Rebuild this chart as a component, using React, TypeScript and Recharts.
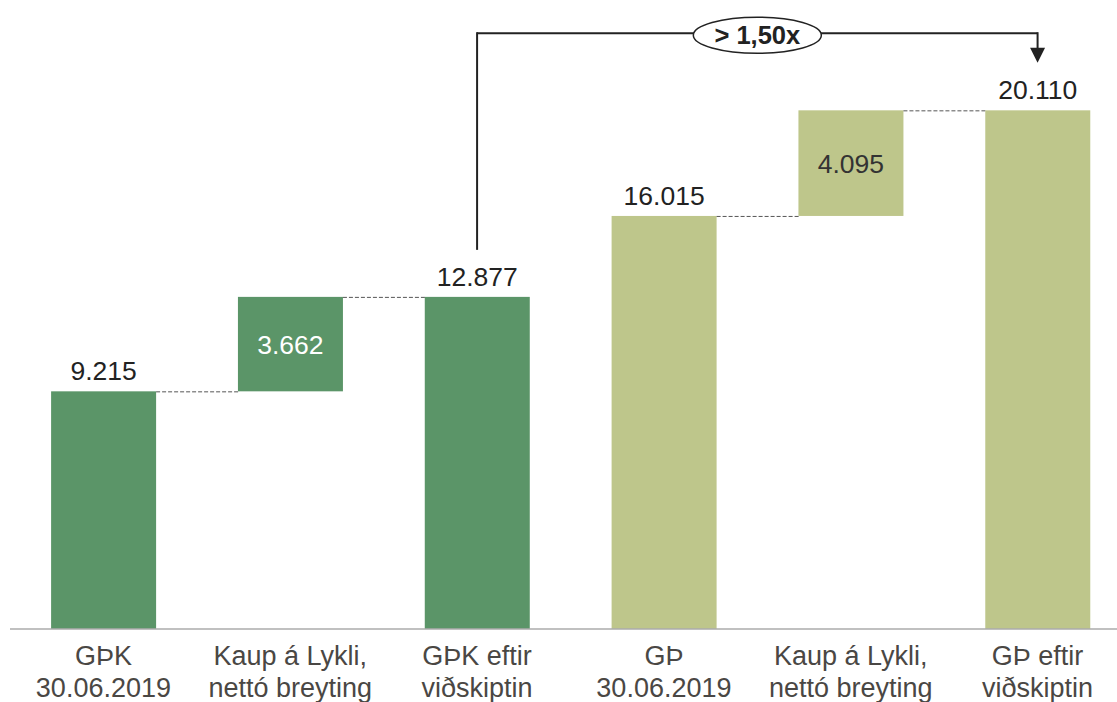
import React from 'react';
import { BarChart, Bar, XAxis, YAxis, Cell, LabelList, ReferenceLine } from 'recharts';

// ---- data ----
const categories = ['GÞK 30.06.2019', 'Kaup á Lykli GÞK', 'GÞK eftir viðskiptin', 'GÞ 30.06.2019', 'Kaup á Lykli GÞ', 'GÞ eftir viðskiptin'];
const tickLine1 = ['GÞK', 'Kaup á Lykli,', 'GÞK eftir', 'GÞ', 'Kaup á Lykli,', 'GÞ eftir'];
const tickLine2 = ['30.06.2019', 'nettó breyting', 'viðskiptin', '30.06.2019', 'nettó breyting', 'viðskiptin'];
const baseValues = [0, 9215, 0, 0, 16015, 0];
const barValues = [9215, 3662, 12877, 16015, 4095, 20110];
const isDelta = [false, true, false, false, true, false];
const connectorAfter = [true, true, false, true, true, false];
const barColors = ['#5b9568', '#5b9568', '#5b9568', '#bec68b', '#bec68b', '#bec68b'];
const insideLabelColors = ['#222222', '#ffffff', '#222222', '#222222', '#333333', '#222222'];
const multipleLabel = '> 1,50x';
// annotation levels (data units)
const bracketFrom = 14700;
const bracketTop = 23100;
const bracketArrowTip = 21950;

const data = categories.map((name, i) => ({ name, base: baseValues[i], value: barValues[i] }));

const CAT_GAP = 0.22;
const FONT = '"Liberation Sans", Arial, sans-serif';

const fmt = (v: number) => {
  const s = String(Math.round(v));
  return s.replace(/\B(?=(\d{3})+(?!\d))/g, '.');
};

const BarShape = (props: any) => {
  const { x, y, width, height, payload } = props;
  const i = categories.indexOf(payload.name);
  const gap = (width * 2 * CAT_GAP) / (1 - 2 * CAT_GAP);
  return (
    <g>
      <rect x={x} y={y} width={width} height={height} fill={barColors[i]} />
      {connectorAfter[i] && (
        <line x1={x + width} y1={y + 0.5} x2={x + width + gap} y2={y + 0.5} stroke="#555" strokeWidth={1} strokeDasharray="4 2" />
      )}
    </g>
  );
};

const ValueLabel = (props: any) => {
  const { x, y, width, height, index, value } = props;
  const cx = x + width / 2;
  if (isDelta[index]) {
    return (
      <text x={cx} y={y + height / 2 + 9.5} textAnchor="middle" fontSize={26.5} fontFamily={FONT} fill={insideLabelColors[index]}>
        {fmt(value)}
      </text>
    );
  }
  return (
    <text x={cx} y={y - 11} textAnchor="middle" fontSize={26.5} fontFamily={FONT} fill="#222">
      {fmt(value)}
    </text>
  );
};

const Tick = (props: any) => {
  const { x, y, index } = props;
  return (
    <text x={x} y={y} textAnchor="middle" fontSize={27} fontFamily={FONT} fill="#4a4744">
      <tspan x={x} dy={35.5}>{tickLine1[index]}</tspan>
      <tspan x={x} dy={32}>{tickLine2[index]}</tspan>
    </text>
  );
};

const VerticalLine = (props: any) => {
  const { x1, y1, x2, y2 } = props;
  return <line x1={x1} y1={Math.min(y1, y2) - 1} x2={x2} y2={Math.max(y1, y2)} stroke="#222" strokeWidth={2} />;
};

const TopLine = (props: any) => {
  const { x1, y1, x2 } = props;
  const cx = (x1 + x2) / 2;
  return (
    <g>
      <line x1={x1} y1={y1} x2={x2} y2={y1} stroke="#222" strokeWidth={2} />
      <ellipse cx={cx} cy={y1 + 2} rx={64} ry={18} fill="#fff" stroke="#222" strokeWidth={1.5} />
      <text x={cx} y={y1 + 10.5} textAnchor="middle" fontSize={25.5} fontWeight="bold" fontFamily={FONT} fill="#222">
        {multipleLabel}
      </text>
    </g>
  );
};

const ArrowLine = (props: any) => {
  const { x1, y1, y2 } = props;
  const top = Math.min(y1, y2);
  const tip = Math.max(y1, y2);
  const head = 15;
  return (
    <g>
      <line x1={x1} y1={top - 1} x2={x1} y2={tip - head + 1} stroke="#222" strokeWidth={2} />
      <polygon points={`${x1 - 7.5},${tip - head} ${x1 + 7.5},${tip - head} ${x1},${tip}`} fill="#222" />
    </g>
  );
};

export default function App() {
  return (
    <div style={{ position: 'absolute', left: 0, top: 0, width: 1117, height: 702, overflow: 'hidden', background: '#fff' }}>
      <BarChart
        width={1131}
        height={702}
        data={data}
        margin={{ top: 10, right: 0, left: 10, bottom: 0 }}
        barCategoryGap={`${CAT_GAP * 100}%`}
      >
        <XAxis
          dataKey="name"
          height={73}
          tickLine={false}
          tickSize={0}
          tickMargin={0}
          axisLine={{ stroke: '#ababab', strokeWidth: 1.5 }}
          tick={<Tick />}
          interval={0}
        />
        <YAxis hide domain={[0, 24000]} allowDataOverflow />
        <Bar dataKey="base" stackId="a" fill="transparent" isAnimationActive={false} />
        <Bar dataKey="value" stackId="a" shape={<BarShape />} isAnimationActive={false}>
          {data.map((d, i) => (
            <Cell key={d.name} fill={barColors[i]} />
          ))}
          <LabelList dataKey="value" content={<ValueLabel />} />
        </Bar>
        <ReferenceLine
          segment={[{ x: categories[2], y: bracketFrom }, { x: categories[2], y: bracketTop }]}
          shape={<VerticalLine />}
          ifOverflow="visible"
        />
        <ReferenceLine
          segment={[{ x: categories[2], y: bracketTop }, { x: categories[5], y: bracketTop }]}
          shape={<TopLine />}
          ifOverflow="visible"
        />
        <ReferenceLine
          segment={[{ x: categories[5], y: bracketTop }, { x: categories[5], y: bracketArrowTip }]}
          shape={<ArrowLine />}
          ifOverflow="visible"
        />
      </BarChart>
    </div>
  );
}
